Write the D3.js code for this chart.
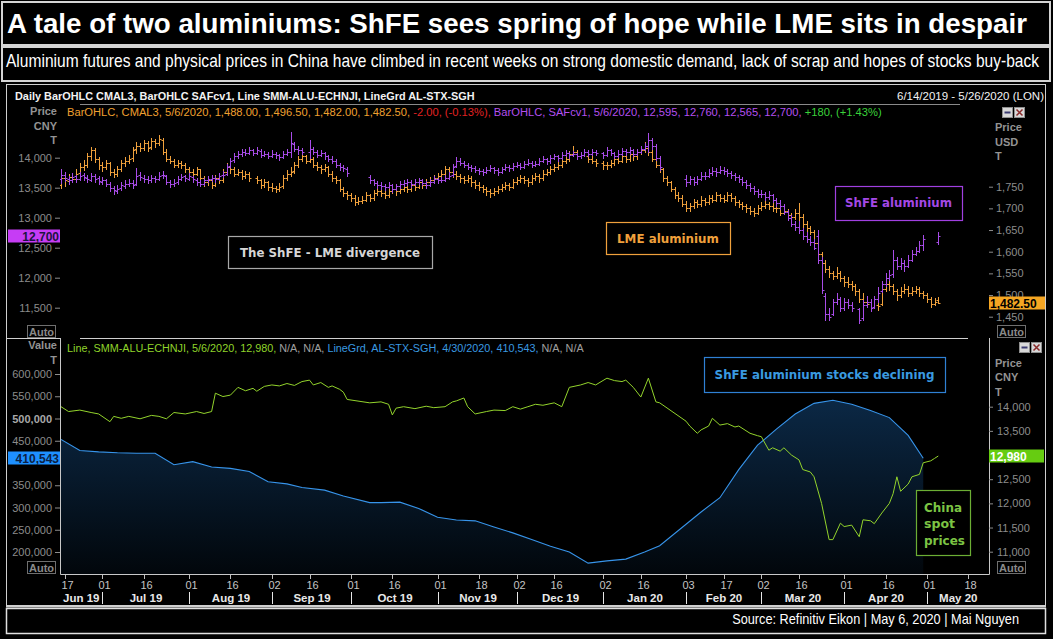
<!DOCTYPE html>
<html>
<head>
<meta charset="utf-8">
<script src="https://cdn.jsdelivr.net/npm/d3@7"></script>
<style>
  html, body { margin: 0; padding: 0; background: #000; }
  svg { display: block; }
</style>
</head>
<body>
<svg id="chart" width="1053" height="639"></svg>
<script>
// ---- data ------------------------------------------------------------
// one entry per weekday from 6/14/2019, [open, high, low, close], null = no session
const shfeBars = [
  // Jun 14
  [13640,13810,13580,13720],
  // Jun 17-21
  [13710,13760,13610,13660],[13650,13700,13570,13620],[13630,13740,13600,13680],[13690,13720,13590,13650],[13650,13760,13620,13700],
  // Jun 24-28
  [13710,13750,13630,13680],[13670,13710,13590,13640],[13630,13750,13610,13700],[13700,13730,13600,13650],[13660,13690,13560,13610],
  // Jul 1-5
  [13600,13680,13560,13620],[13620,13650,13520,13570],[13560,13590,13450,13500],[13500,13530,13400,13460],[13450,13540,13420,13480],
  // Jul 8-12
  [13490,13590,13460,13540],[13530,13620,13500,13560],[13570,13640,13520,13580],[13580,13620,13500,13550],[13560,13830,13550,13700],
  // Jul 15-19
  [13720,13760,13630,13680],[13670,13710,13600,13650],[13650,13690,13580,13630],[13620,13720,13600,13660],[13660,13700,13590,13640],
  // Jul 22-26
  [13640,13760,13620,13700],[13710,13780,13660,13720],[13700,13720,13560,13600],[13590,13630,13510,13560],[13560,13640,13530,13580],
  // Jul 29-Aug 2
  [13590,13690,13570,13640],[13640,13730,13620,13680],[13690,13720,13610,13660],[13650,13740,13630,13690],[13680,13700,13600,13640],
  // Aug 5-9
  [13630,13660,13550,13590],[13590,13620,13520,13570],[13570,13660,13550,13620],[13630,13700,13600,13650],[13650,13710,13610,13660],
  // Aug 12-16
  [13660,13700,13600,13650],[13650,13750,13630,13700],[13710,13780,13680,13720],[13730,13900,13710,13850],[13860,14000,13840,13950],
  // Aug 19-23
  [13960,14080,13930,14020],[14030,14110,13990,14060],[14070,14150,14030,14100],[14100,14140,14040,14080],[14080,14180,14060,14120],
  // Aug 26-30
  [14120,14150,14040,14080],[14080,14170,14060,14120],[14110,14140,14010,14050],[14050,14110,14020,14060],[14060,14090,13990,14030],
  // Sep 2-6
  [14030,14120,14010,14070],[14070,14100,14000,14040],[14040,14070,13960,14010],[14010,14110,13990,14060],[14060,14140,14040,14090],
  // Sep 9-13
  [14100,14430,14010,14250],[14230,14270,14110,14150],[14150,14190,14070,14120],[14120,14160,14060,14100],null,
  // Sep 16-20
  [14100,14300,14000,14150],[14150,14180,14060,14100],[14100,14130,14010,14050],[14050,14130,14030,14080],[14080,14100,13980,14020],
  // Sep 23-27
  [14020,14050,13940,13980],[13980,14020,13910,13950],[13950,13970,13840,13880],[13880,13910,13800,13850],[13850,13880,13770,13820],
  // Sep 30-Oct 4
  [13810,13840,13700,13750],null,null,null,null,
  // Oct 7-11
  null,[13680,13720,13580,13620],[13620,13650,13540,13580],[13580,13610,13500,13550],[13550,13590,13480,13530],
  // Oct 14-18
  [13530,13560,13460,13510],[13510,13600,13490,13540],[13540,13560,13430,13480],[13480,13570,13460,13520],[13520,13610,13500,13560],
  // Oct 21-25
  [13560,13630,13530,13580],[13580,13650,13550,13600],[13600,13620,13510,13560],[13560,13640,13540,13590],[13590,13670,13570,13620],
  // Oct 28-Nov 1
  [13620,13640,13540,13580],[13580,13610,13500,13550],[13550,13640,13530,13600],[13600,13690,13580,13640],[13640,13670,13580,13620],
  // Nov 4-8
  [13620,13680,13590,13630],[13630,13710,13610,13660],[13660,13760,13640,13700],[13710,13900,13690,13850],[13860,14010,13840,13950],
  // Nov 11-15
  [13950,13990,13880,13920],[13920,13950,13840,13880],[13880,13910,13810,13850],[13850,13880,13780,13820],[13820,13860,13760,13800],
  // Nov 18-22
  [13800,13830,13730,13780],[13780,13810,13710,13760],[13760,13850,13740,13800],[13800,13880,13780,13830],[13830,13850,13750,13790],
  // Nov 25-29
  [13790,13820,13720,13760],[13760,13850,13740,13810],[13810,13900,13790,13850],[13850,13880,13780,13820],[13820,13920,13800,13870],
  // Dec 2-6
  [13870,13930,13840,13880],[13880,13910,13810,13850],[13850,13950,13830,13900],[13900,13970,13880,13920],[13920,13940,13840,13880],
  // Dec 9-13
  [13880,13950,13860,13900],[13900,14000,13880,13950],[13950,14030,13930,13980],[13980,14000,13900,13940],[13940,14040,13920,13990],
  // Dec 16-20
  [13990,14070,13970,14020],[14020,14040,13950,13990],[13990,14100,13970,14050],[14050,14130,14030,14080],[14080,14100,14000,14040],
  // Dec 23-27
  [14040,14110,14020,14060],[14060,14080,13980,14020],[14020,14100,14000,14050],[14050,14140,14030,14090],[14090,14120,14030,14070],
  // Dec 30-Jan 3
  [14070,14150,14050,14100],[14100,14130,14040,14080],null,[14080,14100,14000,14050],[14050,14170,14030,14120],
  // Jan 6-10
  [14120,14140,14040,14080],[14080,14100,13990,14030],[14030,14120,14010,14070],[14070,14160,14050,14110],[14110,14140,14050,14090],
  // Jan 13-17
  [14090,14170,14070,14120],[14120,14140,14020,14060],[14060,14150,14040,14100],[14100,14200,14080,14150],[14150,14250,14130,14200],
  // Jan 20-24
  [14200,14410,14100,14300],[14300,14330,14150,14200],[14200,14230,13960,14000],[14000,14030,13800,13850],null,
  // Jan 27-31
  null,null,null,null,null,
  // Feb 3-7
  [13650,13720,13520,13600],[13600,13700,13560,13650],[13650,13680,13540,13600],[13600,13700,13570,13650],[13650,13760,13630,13700],
  // Feb 10-14
  [13700,13760,13640,13700],[13700,13810,13680,13750],[13750,13840,13720,13780],[13780,13820,13700,13760],[13760,13870,13740,13800],
  // Feb 17-21
  [13800,13840,13730,13780],[13780,13810,13700,13750],[13750,13780,13670,13720],[13720,13750,13630,13680],[13680,13710,13600,13650],
  // Feb 24-28
  [13650,13680,13550,13600],[13600,13630,13500,13550],[13550,13580,13450,13500],[13500,13530,13400,13450],[13450,13480,13350,13400],
  // Mar 2-6
  [13400,13470,13350,13400],[13400,13430,13300,13350],[13350,13440,13320,13380],[13380,13400,13260,13300],[13300,13330,13200,13250],
  // Mar 9-13
  [13250,13300,13150,13200],[13200,13230,13060,13100],[13100,13130,12960,13000],[13000,13040,12860,12900],[12900,12950,12800,12850],
  // Mar 16-20
  [12850,12950,12740,12800],[12800,12830,12650,12700],[12700,12760,12600,12650],[12650,12700,12550,12600],[12600,12640,12480,12500],
  // Mar 23-27
  [12700,12800,12240,12300],[12300,12340,11740,11800],[11700,11740,11300,11400],[11400,11500,11300,11350],[11400,11650,11380,11600],
  // Mar 30-Apr 3
  [11600,11740,11560,11650],[11650,11680,11450,11500],[11500,11660,11470,11600],[11600,11640,11500,11550],[11550,11600,11440,11500],
  // Apr 6-10
  null,[11480,11500,11250,11300],[11330,11620,11300,11550],[11550,11700,11520,11600],[11600,11640,11450,11500],
  // Apr 13-17
  [11520,11700,11500,11650],[11650,11850,11600,11750],[11780,11950,11760,11900],[11900,12080,11870,12000],[12000,12130,11960,12050],
  // Apr 20-24
  [12060,12460,12010,12300],[12300,12350,12150,12200],[12200,12320,12150,12250],[12250,12300,12120,12200],[12200,12380,12180,12300],
  // Apr 27-May 1
  [12300,12460,12280,12400],[12400,12520,12380,12450],[12450,12620,12430,12550],[12550,12710,12460,12650],null,
  // May 4-6
  null,null,[12595,12760,12565,12700]
];

const lmeBars = [
  // Jun 14
  [1755,1788,1747,1770],
  // Jun 17-21
  [1770,1778,1752,1765],[1764,1780,1758,1772],[1772,1782,1760,1768],[1768,1790,1762,1780],[1781,1805,1775,1795],
  // Jun 24-28
  [1795,1812,1788,1800],[1801,1828,1795,1820],[1820,1842,1812,1835],[1834,1840,1808,1815],[1815,1818,1792,1800],
  // Jul 1-5
  [1800,1806,1786,1795],[1796,1812,1790,1805],[1804,1808,1778,1785],[1785,1792,1772,1780],[1780,1798,1775,1790],
  // Jul 8-12
  [1790,1812,1786,1805],[1805,1818,1798,1810],[1810,1823,1804,1815],[1816,1842,1810,1835],[1836,1852,1828,1845],
  // Jul 15-19
  [1845,1850,1832,1840],[1840,1858,1835,1850],[1850,1855,1832,1840],[1841,1862,1836,1855],[1855,1860,1842,1850],
  // Jul 22-26
  [1850,1869,1846,1860],[1858,1862,1825,1830],[1830,1838,1810,1815],[1815,1822,1804,1810],[1810,1815,1795,1800],
  // Jul 29-Aug 2
  [1800,1812,1796,1805],[1805,1810,1794,1800],[1800,1804,1784,1790],[1790,1796,1778,1785],[1785,1790,1772,1780],
  // Aug 5-9
  [1780,1796,1776,1790],[1790,1792,1764,1770],[1770,1775,1752,1760],[1760,1772,1754,1765],[1765,1768,1747,1755],
  // Aug 12-16
  [1755,1778,1752,1770],[1770,1775,1758,1765],[1766,1792,1762,1785],[1785,1804,1780,1795],[1795,1800,1782,1790],
  // Aug 19-23
  [1790,1795,1774,1780],[1780,1792,1776,1785],[1785,1788,1768,1775],[1775,1787,1770,1780],[1780,1784,1764,1770],
  // Aug 26-30
  null,[1770,1775,1758,1765],[1765,1768,1748,1755],[1755,1767,1750,1760],[1760,1764,1742,1750],
  // Sep 2-6
  [1750,1758,1740,1748],[1748,1752,1738,1745],[1745,1758,1741,1750],[1751,1776,1747,1770],[1770,1788,1766,1780],
  // Sep 9-13
  [1780,1795,1775,1785],[1786,1808,1782,1800],[1800,1822,1796,1815],[1815,1835,1810,1820],[1820,1824,1804,1810],
  // Sep 16-20
  [1810,1822,1806,1815],[1815,1818,1796,1800],[1800,1806,1788,1795],[1795,1800,1782,1790],[1790,1802,1786,1795],
  // Sep 23-27
  [1795,1798,1774,1780],[1780,1786,1764,1770],[1770,1775,1758,1765],[1765,1768,1740,1745],[1745,1750,1728,1735],
  // Sep 30-Oct 4
  [1735,1740,1722,1730],[1730,1736,1718,1725],[1725,1730,1708,1715],[1715,1726,1710,1718],[1718,1728,1712,1720],
  // Oct 7-11
  [1720,1738,1716,1730],[1730,1734,1718,1725],[1725,1742,1720,1735],[1735,1748,1730,1740],[1740,1744,1728,1735],
  // Oct 14-18
  [1735,1740,1724,1730],[1730,1746,1726,1740],[1740,1752,1735,1745],[1745,1748,1732,1740],[1740,1752,1736,1745],
  // Oct 21-25
  [1745,1758,1740,1750],[1750,1754,1738,1745],[1745,1762,1740,1755],[1755,1760,1742,1750],[1750,1768,1746,1760],
  // Oct 28-Nov 1
  [1760,1764,1748,1755],[1755,1768,1750,1760],[1760,1772,1755,1765],[1765,1778,1760,1770],[1770,1782,1765,1775],
  // Nov 4-8
  [1775,1788,1770,1780],[1780,1798,1776,1790],[1790,1795,1778,1785],[1785,1790,1772,1780],[1780,1786,1768,1775],
  // Nov 11-15
  [1775,1780,1762,1770],[1770,1775,1758,1765],[1765,1778,1760,1770],[1770,1774,1752,1760],[1760,1765,1748,1755],
  // Nov 18-22
  [1755,1760,1742,1750],[1750,1755,1738,1745],[1745,1750,1732,1740],[1740,1745,1727,1735],[1735,1748,1730,1740],
  // Nov 25-29
  [1740,1752,1736,1745],[1745,1757,1740,1750],[1750,1762,1745,1755],[1755,1758,1742,1750],[1750,1768,1746,1760],
  // Dec 2-6
  [1760,1772,1756,1765],[1765,1778,1760,1770],[1770,1774,1758,1765],[1765,1770,1752,1760],[1760,1778,1756,1770],
  // Dec 9-13
  [1770,1782,1766,1775],[1775,1779,1762,1770],[1770,1788,1766,1780],[1780,1792,1776,1785],[1785,1798,1780,1790],
  // Dec 16-20
  [1790,1802,1786,1795],[1795,1808,1790,1800],[1800,1818,1796,1810],[1810,1822,1805,1815],[1815,1832,1810,1825],
  // Dec 23-27
  [1825,1845,1820,1830],[1830,1834,1814,1820],null,null,[1820,1826,1808,1815],
  // Dec 30-Jan 3
  [1815,1820,1804,1810],[1810,1815,1798,1805],null,[1805,1810,1792,1800],[1800,1808,1790,1800],
  // Jan 6-10
  [1800,1812,1796,1805],[1805,1822,1800,1815],[1815,1820,1804,1810],[1810,1828,1806,1820],[1820,1824,1808,1815],
  // Jan 13-17
  [1815,1832,1810,1825],[1825,1830,1812,1820],[1820,1838,1815,1830],[1830,1844,1826,1835],[1835,1852,1830,1840],
  // Jan 20-24
  [1840,1846,1824,1830],[1830,1834,1810,1815],[1815,1820,1795,1800],[1800,1805,1784,1790],[1790,1794,1764,1770],
  // Jan 27-31
  [1770,1775,1754,1760],[1760,1764,1740,1745],[1745,1750,1724,1730],[1730,1738,1718,1725],[1725,1730,1705,1710],
  // Feb 3-7
  [1710,1716,1694,1700],[1700,1712,1694,1705],[1705,1722,1700,1715],[1715,1720,1704,1710],[1710,1728,1706,1720],
  // Feb 10-14
  [1720,1724,1708,1715],[1715,1732,1710,1725],[1725,1730,1714,1720],[1720,1738,1716,1730],[1730,1734,1718,1725],
  // Feb 17-21
  [1725,1730,1714,1720],[1720,1738,1716,1730],[1730,1735,1718,1725],[1725,1728,1708,1715],[1715,1720,1704,1710],
  // Feb 24-28
  [1710,1715,1698,1705],[1705,1710,1692,1700],[1700,1706,1688,1695],[1695,1700,1682,1690],[1690,1708,1686,1700],
  // Mar 2-6
  [1700,1714,1696,1705],[1705,1720,1700,1710],[1710,1715,1698,1705],[1705,1712,1694,1700],[1700,1710,1692,1700],
  // Mar 9-13
  [1700,1705,1684,1690],[1690,1702,1686,1695],[1695,1698,1678,1685],[1685,1690,1672,1680],[1680,1698,1676,1690],
  // Mar 16-20
  [1690,1712,1674,1680],[1680,1686,1658,1665],[1665,1670,1648,1655],[1655,1660,1640,1645],[1645,1650,1612,1620],
  // Mar 23-27
  [1620,1628,1588,1595],[1595,1600,1570,1575],[1575,1581,1552,1560],[1560,1566,1542,1550],[1550,1556,1538,1545],
  // Mar 30-Apr 3
  [1545,1565,1540,1550],[1550,1555,1532,1540],[1540,1545,1522,1530],[1530,1542,1518,1525],[1525,1532,1512,1520],
  // Apr 6-10
  [1520,1525,1500,1510],[1510,1514,1484,1490],[1490,1505,1480,1485],[1485,1490,1473,1480],null,
  // Apr 13-17
  null,[1478,1500,1465,1475],[1480,1522,1476,1515],[1515,1535,1510,1525],[1525,1535,1512,1520],
  // Apr 20-24
  [1520,1526,1502,1510],[1510,1515,1488,1500],[1500,1518,1495,1510],[1510,1525,1505,1515],[1515,1520,1498,1505],
  // Apr 27-May 1
  [1505,1518,1500,1510],[1510,1520,1504,1515],[1515,1518,1498,1505],[1505,1510,1494,1500],[1500,1504,1484,1490],
  // May 4-6
  [1490,1495,1473,1480],[1480,1492,1476,1485],[1488,1496.5,1482,1482.5]
];

// SMM spot aluminium, CNY/t
const spotPrices = [
  ["2019-06-14",14000],["2019-06-18",13900],["2019-06-21",13930],["2019-06-26",13880],["2019-06-28",13850],
  ["2019-07-03",13690],["2019-07-04",13800],["2019-07-08",13760],["2019-07-10",13800],["2019-07-15",13750],
  ["2019-07-18",13820],["2019-07-22",13800],["2019-07-24",13750],["2019-07-26",13880],["2019-07-31",13850],
  ["2019-08-05",13900],["2019-08-07",13860],["2019-08-09",13900],["2019-08-12",14280],["2019-08-14",14210],
  ["2019-08-16",14240],["2019-08-20",14400],["2019-08-22",14330],["2019-08-26",14380],["2019-08-27",14320],
  ["2019-08-29",14420],["2019-09-02",14450],["2019-09-04",14430],["2019-09-06",14480],["2019-09-10",14440],
  ["2019-09-12",14520],["2019-09-16",14550],["2019-09-17",14450],["2019-09-19",14500],["2019-09-23",14400],
  ["2019-09-24",14430],["2019-09-26",14360],["2019-09-27",14300],["2019-09-30",14150],["2019-10-08",14080],
  ["2019-10-11",14100],["2019-10-15",14050],["2019-10-16",13830],["2019-10-17",13970],["2019-10-21",14000],
  ["2019-10-24",13960],["2019-10-29",14010],["2019-10-31",13980],["2019-11-05",14000],["2019-11-07",14100],
  ["2019-11-08",14120],["2019-11-12",14180],["2019-11-13",14000],["2019-11-15",13850],["2019-11-20",13900],
  ["2019-11-22",13930],["2019-11-27",13920],["2019-11-29",14000],["2019-12-03",13950],["2019-12-05",14000],
  ["2019-12-09",14050],["2019-12-11",14030],["2019-12-16",14080],["2019-12-18",14000],["2019-12-20",14400],
  ["2019-12-25",14450],["2019-12-27",14500],["2019-12-31",14450],["2020-01-03",14590],["2020-01-07",14540],
  ["2020-01-09",14520],["2020-01-10",14550],["2020-01-14",14400],["2020-01-16",14200],["2020-01-20",14590],
  ["2020-01-22",14100],["2020-01-23",14080],["2020-02-03",13700],["2020-02-04",13600],["2020-02-06",13450],
  ["2020-02-07",13520],["2020-02-11",13600],["2020-02-12",13760],["2020-02-14",13620],["2020-02-18",13650],
  ["2020-02-20",13580],["2020-02-21",13600],["2020-02-26",13450],["2020-02-28",13400],["2020-03-02",13380],
  ["2020-03-04",13100],["2020-03-05",13150],["2020-03-09",13080],["2020-03-10",13150],["2020-03-12",13000],
  ["2020-03-16",12900],["2020-03-17",12700],["2020-03-19",12650],["2020-03-20",12550],["2020-03-24",12000],
  ["2020-03-26",11250],["2020-03-27",11250],["2020-03-31",11590],["2020-04-01",11520],["2020-04-03",11550],
  ["2020-04-07",11310],["2020-04-08",11660],["2020-04-10",11640],["2020-04-13",11580],["2020-04-15",11800],
  ["2020-04-17",12000],["2020-04-20",12200],["2020-04-21",12550],["2020-04-22",12250],["2020-04-24",12400],
  ["2020-04-27",12550],["2020-04-29",12600],["2020-04-30",12840],["2020-05-04",12880],["2020-05-05",12930],
  ["2020-05-06",12980]
];

// ShFE aluminium warehouse stocks, tonnes (weekly)
const shfeStocks = [
  ["2019-06-14",453000],["2019-06-21",428000],["2019-06-28",425000],["2019-07-05",423000],["2019-07-12",422000],
  ["2019-07-19",422000],["2019-07-26",396000],["2019-08-02",403000],["2019-08-09",391000],["2019-08-16",388000],
  ["2019-08-23",381000],["2019-08-30",358000],["2019-09-06",353000],["2019-09-12",345000],["2019-09-20",339000],
  ["2019-09-27",326000],["2019-10-08",311000],["2019-10-11",311000],["2019-10-18",312000],["2019-10-25",298000],
  ["2019-11-01",278000],["2019-11-08",272000],["2019-11-15",270000],["2019-11-22",256000],["2019-11-29",243000],
  ["2019-12-06",228000],["2019-12-13",213000],["2019-12-20",200000],["2019-12-27",175000],["2020-01-03",180000],
  ["2020-01-10",184000],["2020-01-17",200000],["2020-01-23",214000],["2020-02-07",290000],["2020-02-14",322000],
  ["2020-02-21",385000],["2020-02-28",440000],["2020-03-06",476000],["2020-03-13",510000],["2020-03-20",534000],
  ["2020-03-27",541000],["2020-04-03",532000],["2020-04-10",518000],["2020-04-17",502000],["2020-04-24",462000],
  ["2020-04-30",410543]
];

const tickDates = ["2019-06-17","2019-07-01","2019-07-16","2019-08-01","2019-08-16","2019-09-02","2019-09-16",
  "2019-10-01","2019-10-16","2019-11-01","2019-11-18","2019-12-02","2019-12-16","2020-01-02","2020-01-16",
  "2020-02-03","2020-02-17","2020-03-02","2020-03-16","2020-04-01","2020-04-16","2020-05-01","2020-05-18"];
const monthStarts = ["2019-07-01","2019-08-01","2019-09-02","2019-10-01","2019-11-01","2019-12-02",
  "2020-01-02","2020-02-03","2020-03-02","2020-04-01","2020-05-01"];
const monthLabels = ["Jun 19","Jul 19","Aug 19","Sep 19","Oct 19","Nov 19","Dec 19","Jan 20","Feb 20","Mar 20","Apr 20","May 20"];

const shfeTicks = [11500, 12000, 12500, 13000, 13500, 14000];
const lmeTicks = [1450, 1500, 1550, 1600, 1650, 1700, 1750];
const stockTicks = [200000, 250000, 300000, 350000, 400000, 450000, 500000, 550000, 600000];
const spotTicks = [11000, 11500, 12000, 12500, 13000, 13500, 14000];

// ---- setup -----------------------------------------------------------
const svg = d3.select("#chart");
const SANS = "'Liberation Sans', Arial, sans-serif";
const NARROW = "'Liberation Sans Narrow', 'Liberation Sans', Arial, sans-serif";
const BOLDF = "'DejaVu Sans', Verdana, sans-serif";

svg.append("rect").attr("width", 1053).attr("height", 639).attr("fill", "#000");

const parse = d3.timeParse("%Y-%m-%d"), fmt = d3.timeFormat("%Y-%m-%d");
const days = d3.timeDay.range(parse("2019-06-14"), parse("2020-05-27"))
  .filter(d => d.getDay() > 0 && d.getDay() < 6);
const dayIndex = new Map(days.map((d, i) => [fmt(d), i]));

const x = d3.scaleLinear().domain([0, 247]).range([61, 991]);
const yL = d3.scaleLinear().domain([11500, 14000]).range([307.7, 157.7]);   // ShFE CNY
const yR = d3.scaleLinear().domain([1450, 1750]).range([316.7, 186.7]);     // LME USD
const yS = d3.scaleLinear().domain([200000, 600000]).range([552, 374]);     // stocks
const yP = d3.scaleLinear().domain([11000, 14000]).range([551.7, 406.7]);   // spot CNY

// stretch a text node horizontally to a given width around its anchor
function fit(t, width) {
  const len = t.node().getComputedTextLength();
  const x0 = +t.attr("x"), y0 = +t.attr("y"), k = width / len;
  t.attr("transform", `translate(${x0},${y0}) scale(${k},1) translate(${-x0},${-y0})`);
  return t;
}

// ---- frames ----------------------------------------------------------
const frame = svg.append("g").attr("fill", "none");
frame.append("rect").attr("x", 2).attr("y", 2).attr("width", 1048).attr("height", 43)
  .attr("stroke", "#d4d4d4").attr("stroke-width", 2);
frame.append("rect").attr("x", 2).attr("y", 47).attr("width", 1048).attr("height", 34)
  .attr("stroke", "#d4d4d4").attr("stroke-width", 2);
frame.append("rect").attr("x", 6.5).attr("y", 84.5).attr("width", 1039).attr("height", 521)
  .attr("stroke", "#cfcfcf").attr("stroke-width", 1);
frame.append("line").attr("x1", 6).attr("x2", 1046).attr("y1", 606.5).attr("y2", 606.5)
  .attr("stroke", "#cfcfcf").attr("stroke-width", 2);
frame.append("rect").attr("x", 6.5).attr("y", 608.5).attr("width", 1039).attr("height", 25)
  .attr("stroke", "#e0e0e0").attr("stroke-width", 1.5);
// panel lines
frame.append("line").attr("x1", 80).attr("x2", 960).attr("y1", 104.5).attr("y2", 104.5).attr("stroke", "#8a8a8a");
frame.append("line").attr("x1", 7).attr("x2", 60).attr("y1", 338.5).attr("y2", 338.5).attr("stroke", "#d0d0d0");
frame.append("line").attr("x1", 80).attr("x2", 968).attr("y1", 338.5).attr("y2", 338.5).attr("stroke", "#d0d0d0");
frame.append("path").attr("d", "M60.5,338V574.5H989.5V338").attr("stroke", "#c8c8c8");

// ---- titles ----------------------------------------------------------
fit(svg.append("text").attr("x", 7).attr("y", 33).attr("fill", "#fff")
  .attr("font-family", NARROW).attr("font-weight", "bold").attr("font-size", 27)
  .text("A tale of two aluminiums: ShFE sees spring of hope while LME sits in despair"), 1020);
fit(svg.append("text").attr("x", 6).attr("y", 67.5).attr("fill", "#fff")
  .attr("font-family", NARROW).attr("font-size", 18)
  .text("Aluminium futures and physical prices in China have climbed in recent weeks on strong domestic demand, lack of scrap and hopes of stocks buy-back"), 1034);
fit(svg.append("text").attr("x", 15).attr("y", 100).attr("fill", "#f2f2f2")
  .attr("font-family", SANS).attr("font-weight", "bold").attr("font-size", 11)
  .text("Daily BarOHLC CMAL3, BarOHLC SAFcv1, Line SMM-ALU-ECHNJI, LineGrd AL-STX-SGH"), 460);
fit(svg.append("text").attr("x", 1044).attr("y", 100).attr("text-anchor", "end").attr("fill", "#f2f2f2")
  .attr("font-family", SANS).attr("font-size", 11)
  .text("6/14/2019 - 5/26/2020 (LON)"), 147);
fit(svg.append("text").attr("x", 1019).attr("y", 624).attr("text-anchor", "end").attr("fill", "#fff")
  .attr("font-family", SANS).attr("font-size", 14)
  .text("Source: Refinitiv Eikon | May 6, 2020 | Mai Nguyen"), 287);

// legends
function legend(y, parts, width) {
  const t = svg.append("text").attr("x", 67).attr("y", y).attr("font-family", SANS).attr("font-size", 11);
  parts.forEach(p => t.append("tspan").attr("fill", p[1]).text(p[0]));
  fit(t, width);
}
legend(116, [
  ["BarOHLC, CMAL3, 5/6/2020, 1,488.00, 1,496.50, 1,482.00, 1,482.50, ", "#f0a030"],
  ["-2.00, (-0.13%), ", "#e02222"],
  ["BarOHLC, SAFcv1, 5/6/2020, 12,595, 12,760, 12,565, 12,700, ", "#b44ff0"],
  ["+180, (+1.43%)", "#3ad23a"]
], 815);
legend(352, [
  ["Line, SMM-ALU-ECHNJI, 5/6/2020, 12,980, ", "#8fd42a"],
  ["N/A, N/A, ", "#a0a0a0"],
  ["LineGrd, AL-STX-SGH, 4/30/2020, 410,543, ", "#3a9ae0"],
  ["N/A, N/A", "#a0a0a0"]
], 517);

// axis unit labels
function unitLabels(x0, anchor, y0, lines) {
  lines.forEach((s, i) => svg.append("text").attr("x", x0).attr("y", y0 + i * 14.5)
    .attr("text-anchor", anchor).attr("fill", "#939393").attr("font-family", SANS)
    .attr("font-weight", "bold").attr("font-size", 11).text(s));
}
unitLabels(57, "end", 115, ["Price", "CNY", "T"]);
unitLabels(995, "start", 131, ["Price", "USD", "T"]);
unitLabels(57, "end", 349, ["Value", "T"]);
unitLabels(995, "start", 366.5, ["Price", "CNY", "T"]);

// ---- clips & gradient ------------------------------------------------
const defs = svg.append("defs");
defs.append("clipPath").attr("id", "clipTop").append("rect")
  .attr("x", 60).attr("y", 105).attr("width", 929).attr("height", 233);
defs.append("clipPath").attr("id", "clipBot").append("rect")
  .attr("x", 61).attr("y", 339).attr("width", 928).attr("height", 235);
const grad = defs.append("linearGradient").attr("id", "stockFill")
  .attr("x1", 0).attr("y1", 0).attr("x2", 0).attr("y2", 1);
grad.append("stop").attr("offset", "0%").attr("stop-color", "#1f6fbf").attr("stop-opacity", 0.36);
grad.append("stop").attr("offset", "100%").attr("stop-color", "#1f6fbf").attr("stop-opacity", 0.06);

// ---- last values (tags drawn later) ----------------------------------
const lastShfe = shfeBars[shfeBars.length - 1], lastLme = lmeBars[lmeBars.length - 1];
const lastStock = shfeStocks[shfeStocks.length - 1], lastSpot = spotPrices[spotPrices.length - 1];

// ---- y axes ----------------------------------------------------------
// tick labels fully covered by a last-value tag are left out, as on screen
function styleAxis(g, scale, tagValue, boldVal) {
  g.attr("font-family", null).attr("font-size", null);
  g.select(".domain").remove();
  g.selectAll(".tick line").attr("stroke", "#8c8c8c");
  g.selectAll(".tick text").attr("font-family", SANS).attr("font-size", 11)
    .attr("font-weight", d => d === boldVal ? "bold" : null)
    .attr("fill", d => d === boldVal ? "#a8a8a8" : "#8c8c8c")
    .filter(d => Math.abs(scale(d) - scale(tagValue)) < 6).remove();
}
const comma = d3.format(",");
svg.append("g").attr("transform", "translate(60,0)")
  .call(d3.axisLeft(yL).tickValues(shfeTicks).tickFormat(comma).tickSize(5).tickPadding(3))
  .call(g => styleAxis(g, yL, lastShfe[3]));
svg.append("g").attr("transform", "translate(989,0)")
  .call(d3.axisRight(yR).tickValues(lmeTicks).tickFormat(comma).tickSize(4).tickPadding(3))
  .call(g => styleAxis(g, yR, lastLme[3]));
svg.append("g").attr("transform", "translate(60,0)")
  .call(d3.axisLeft(yS).tickValues(stockTicks).tickFormat(comma).tickSize(5).tickPadding(3))
  .call(g => styleAxis(g, yS, lastStock[1], 500000));
svg.append("g").attr("transform", "translate(989,0)")
  .call(d3.axisRight(yP).tickValues(spotTicks).tickFormat(comma).tickSize(4).tickPadding(4))
  .call(g => styleAxis(g, yP, lastSpot[1]));

// ---- x axis ----------------------------------------------------------
const xa = svg.append("g");
const dayFmt = d3.timeFormat("%d");
tickDates.forEach(d => {
  const px = Math.round(x(dayIndex.get(d))) + 0.5;
  xa.append("line").attr("x1", px).attr("x2", px).attr("y1", 575).attr("y2", 579).attr("stroke", "#bdbdbd");
  xa.append("text").attr("x", px + 2).attr("y", 588.5).attr("text-anchor", "middle")
    .attr("fill", "#c4c4c4").attr("font-family", SANS).attr("font-size", 11).text(dayFmt(parse(d)));
});
const bounds = [60].concat(monthStarts.map(d => Math.round(x(dayIndex.get(d))) + 0.5), [989]);
monthStarts.forEach((d, i) => {
  xa.append("line").attr("x1", bounds[i + 1]).attr("x2", bounds[i + 1]).attr("y1", 592).attr("y2", 604)
    .attr("stroke", "#e6e6e6");
});
monthLabels.forEach((m, i) => {
  xa.append("text").attr("x", (bounds[i] + bounds[i + 1]) / 2).attr("y", 601.5).attr("text-anchor", "middle")
    .attr("fill", "#e8e8e8").attr("font-family", SANS).attr("font-weight", "bold").attr("font-size", 11.5).text(m);
});

// ---- OHLC bars -------------------------------------------------------
function ohlcPath(bars, y) {
  const p = d3.path();
  const r = v => Math.round(y(v)) + 0.5;
  bars.forEach((b, i) => {
    if (!b) return;
    const cx = Math.round(x(i)) + 0.5;
    p.moveTo(cx, Math.round(y(b[1]))); p.lineTo(cx, Math.round(y(b[2])) + 1);
    p.moveTo(cx - 2, r(b[0])); p.lineTo(cx, r(b[0]));
    p.moveTo(cx, r(b[3])); p.lineTo(cx + 2, r(b[3]));
  });
  return p.toString();
}
const barLayer = svg.append("g").attr("clip-path", "url(#clipTop)").attr("fill", "none");
barLayer.append("path").attr("d", ohlcPath(lmeBars, yR)).attr("stroke", "#f0a13c").attr("stroke-width", 1);
barLayer.append("path").attr("d", ohlcPath(shfeBars, yL)).attr("stroke", "#a84ce8").attr("stroke-width", 1);

// ---- lower panel lines -----------------------------------------------
const posX = d => x(dayIndex.get(d[0]));
const lineLayer = svg.append("g").attr("clip-path", "url(#clipBot)");
lineLayer.append("path").datum(shfeStocks)
  .attr("d", d3.area().x(posX).y0(574).y1(d => yS(d[1])))
  .attr("fill", "url(#stockFill)");
lineLayer.append("path").datum(shfeStocks)
  .attr("d", d3.line().x(posX).y(d => yS(d[1])))
  .attr("fill", "none").attr("stroke", "#3794ea").attr("stroke-width", 1.1);
lineLayer.append("path").datum(spotPrices)
  .attr("d", d3.line().x(posX).y(d => yP(d[1])))
  .attr("fill", "none").attr("stroke", "#93d42c").attr("stroke-width", 1);

// ---- annotations -----------------------------------------------------
function note(bx, by, bw, bh, color, textColor, lines, widths, anchor) {
  svg.append("rect").attr("x", bx + 0.5).attr("y", by + 0.5).attr("width", bw).attr("height", bh)
    .attr("fill", "#000").attr("stroke", color).attr("stroke-width", 1.2);
  lines.forEach((s, i) => {
    const t = svg.append("text").attr("x", anchor === "start" ? bx + 8 : bx + bw / 2)
      .attr("y", s[1]).attr("text-anchor", anchor || "middle").attr("fill", textColor)
      .attr("font-family", BOLDF).attr("font-weight", "bold").attr("font-size", 13).text(s[0]);
    fit(t, widths[i]);
  });
}
note(228, 236, 204, 32, "#a8a8a8", "#d6d6d6", [["The ShFE - LME divergence", 257]], [180]);
note(606, 222, 124, 32, "#f0a13c", "#f0a13c", [["LME aluminium", 243]], [102]);
note(835, 186, 127, 34, "#a040e0", "#a448e6", [["ShFE aluminium", 207]], [107]);
note(704, 357, 241, 35, "#2f80d4", "#3a9ae0", [["ShFE aluminium stocks declining", 379]], [220]);
note(916, 490, 54, 65, "#6cae34", "#7cc444", [["China", 512], ["spot", 528.5], ["prices", 545]], [38, 31, 41], "start");

// ---- last-value tags -------------------------------------------------
function tag(bx, bw, yc, bg, fg, label, anchor) {
  svg.append("rect").attr("x", bx).attr("y", Math.round(yc) - 6.5).attr("width", bw).attr("height", 13).attr("fill", bg);
  svg.append("text").attr("x", anchor === "end" ? bx + bw - 1 : bx + 1).attr("y", Math.round(yc) + 4.5)
    .attr("text-anchor", anchor).attr("fill", fg).attr("font-family", SANS).attr("font-weight", "bold")
    .attr("font-size", 12).text(label);
}
tag(8, 52, yL(lastShfe[3]), "#c63cf5", "#1b1440", comma(lastShfe[3]), "end");
tag(989, 56, yR(lastLme[3]), "#f5a623", "#000", d3.format(",.2f")(lastLme[3]), "start");
tag(8, 52, yS(lastStock[1]), "#1e90ff", "#0c1f44", comma(lastStock[1]), "end");
tag(989, 55, yP(lastSpot[1]), "#66cc11", "#fff", comma(lastSpot[1]), "start");

// ---- "Auto" buttons and window icons ---------------------------------
[[27, 325], [997, 325], [27, 561], [997, 561]].forEach(([bx, by]) => {
  svg.append("rect").attr("x", bx + 0.5).attr("y", by + 0.5).attr("width", 28).attr("height", 12)
    .attr("fill", "none").attr("stroke", "#6f6f6f");
  svg.append("text").attr("x", bx + 14.5).attr("y", by + 10.5).attr("text-anchor", "middle")
    .attr("fill", "#8a8a8a").attr("font-family", SANS).attr("font-weight", "bold").attr("font-size", 11).text("Auto");
});
[[1002, 107], [1019, 342]].forEach(([bx, by]) => {
  const g = svg.append("g").attr("transform", `translate(${bx},${by})`);
  g.append("rect").attr("x", 0.5).attr("y", 0.5).attr("width", 10).attr("height", 10)
    .attr("fill", "#d8d8d8").attr("stroke", "#8f8f8f");
  g.append("rect").attr("x", 2.5).attr("y", 4.5).attr("width", 6).attr("height", 2).attr("fill", "#3a3a70");
  g.append("rect").attr("x", 12.5).attr("y", 0.5).attr("width", 10).attr("height", 10)
    .attr("fill", "#d8d8d8").attr("stroke", "#8f8f8f");
  g.append("path").attr("d", "M14.5,2.5L20.5,8.5M20.5,2.5L14.5,8.5").attr("stroke", "#8a2a2a").attr("stroke-width", 1.5);
});
</script>
</body>
</html>
